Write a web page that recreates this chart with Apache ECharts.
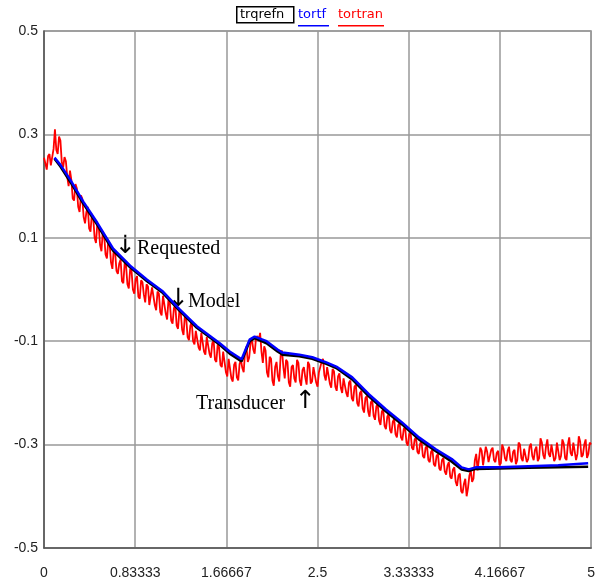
<!DOCTYPE html>
<html>
<head>
<meta charset="utf-8">
<script src="https://cdn.jsdelivr.net/npm/echarts@6/dist/echarts.min.js"></script>
<style>html,body{margin:0;padding:0;background:#fff}#c{width:598px;height:580px}</style>
</head>
<body>
<div id="c"></div>
<script>
// ---- data ----
const seriesNames = ['trqrefn', 'tortf', 'tortran'];
const xTickLabels = ['0', '0.83333', '1.66667', '2.5', '3.33333', '4.16667', '5'];
const yTickLabels = ['-0.5', '-0.3', '-0.1', '0.1', '0.3', '0.5'];

// model (tortf) read points [t, value]
const tortfT = [0.096,0.150,0.241,0.359,0.487,0.632,0.787,0.942,1.087,1.242,1.397,1.606,1.697,1.806,1.879,1.925,2.034,2.134,2.180,2.334,2.452,2.580,2.671,2.817,2.971,3.126,3.272,3.426,3.581,3.727,3.817,3.881,3.945,4.154,4.427,4.700,4.973];
const tortfV = [0.255,0.241,0.212,0.170,0.129,0.079,0.046,0.019,-0.004,-0.039,-0.071,-0.104,-0.120,-0.135,-0.097,-0.091,-0.100,-0.116,-0.122,-0.126,-0.131,-0.141,-0.149,-0.170,-0.203,-0.232,-0.257,-0.286,-0.309,-0.328,-0.344,-0.348,-0.344,-0.344,-0.342,-0.340,-0.336];
// requested (trqrefn)
const trqrefnV = [0.253,0.238,0.208,0.166,0.125,0.075,0.043,0.016,-0.007,-0.042,-0.074,-0.107,-0.124,-0.139,-0.100,-0.094,-0.104,-0.120,-0.126,-0.129,-0.134,-0.144,-0.152,-0.174,-0.207,-0.236,-0.261,-0.290,-0.313,-0.333,-0.348,-0.351,-0.347,-0.346,-0.345,-0.344,-0.343];

// transducer (tortran), sampled every tortranStep from 0
const tortranStep = 0.0125;
const tortranV = [
0.255,0.244,0.232,0.258,0.262,0.240,0.238,0.272,0.310,0.270,0.262,0.296,0.288,0.246,0.236,0.256,0.248,0.218,0.200,0.230,
0.212,0.176,0.172,0.204,0.196,0.160,0.150,0.182,0.176,0.140,0.128,0.150,0.160,0.118,0.112,0.146,0.138,0.100,0.090,0.128,
0.122,0.086,0.074,0.112,0.104,0.068,0.060,0.094,0.088,0.052,0.040,0.078,0.072,0.036,0.030,0.050,0.058,0.016,0.012,0.052,
0.046,0.010,0.002,0.040,0.036,0.000,-0.008,0.020,0.026,-0.014,-0.018,0.018,0.014,-0.010,-0.025,0.010,0.006,-0.030,-0.032,0.004,
0.002,-0.030,-0.040,-0.004,-0.008,-0.044,-0.050,-0.012,-0.014,-0.046,-0.058,-0.020,-0.026,-0.060,-0.066,-0.036,-0.030,-0.070,-0.076,-0.040,
-0.046,-0.078,-0.088,-0.050,-0.056,-0.092,-0.098,-0.070,-0.062,-0.100,-0.106,-0.080,-0.078,-0.112,-0.118,-0.084,-0.086,-0.120,-0.126,-0.092,
-0.094,-0.124,-0.132,-0.104,-0.098,-0.136,-0.140,-0.106,-0.112,-0.146,-0.150,-0.120,-0.118,-0.160,-0.168,-0.134,-0.132,-0.172,-0.178,-0.146,
-0.140,-0.170,-0.176,-0.144,-0.136,-0.152,-0.160,-0.120,-0.110,-0.140,-0.132,-0.104,-0.096,-0.116,-0.124,-0.094,-0.090,-0.100,-0.084,-0.120,
-0.142,-0.110,-0.118,-0.160,-0.170,-0.130,-0.134,-0.176,-0.186,-0.150,-0.140,-0.168,-0.178,-0.128,-0.118,-0.150,-0.172,-0.136,-0.140,-0.180,
-0.188,-0.150,-0.146,-0.172,-0.180,-0.136,-0.142,-0.176,-0.186,-0.156,-0.150,-0.170,-0.184,-0.140,-0.146,-0.182,-0.178,-0.150,-0.150,-0.180,
-0.188,-0.160,-0.150,-0.140,-0.134,-0.166,-0.176,-0.150,-0.150,-0.182,-0.190,-0.154,-0.158,-0.188,-0.196,-0.168,-0.162,-0.190,-0.200,-0.172,
-0.170,-0.200,-0.208,-0.180,-0.176,-0.210,-0.216,-0.188,-0.184,-0.220,-0.226,-0.200,-0.196,-0.230,-0.238,-0.210,-0.206,-0.236,-0.246,-0.218,
-0.214,-0.244,-0.252,-0.226,-0.222,-0.254,-0.262,-0.236,-0.232,-0.264,-0.270,-0.246,-0.240,-0.272,-0.278,-0.256,-0.250,-0.280,-0.286,-0.262,
-0.258,-0.286,-0.292,-0.270,-0.266,-0.296,-0.302,-0.280,-0.276,-0.306,-0.310,-0.290,-0.286,-0.314,-0.318,-0.298,-0.294,-0.322,-0.326,-0.306,
-0.302,-0.330,-0.334,-0.314,-0.310,-0.338,-0.342,-0.322,-0.318,-0.346,-0.350,-0.330,-0.326,-0.352,-0.358,-0.340,-0.334,-0.362,-0.366,-0.348,
-0.344,-0.372,-0.380,-0.360,-0.356,-0.390,-0.394,-0.376,-0.366,-0.400,-0.384,-0.360,-0.350,-0.372,-0.366,-0.330,-0.318,-0.350,-0.348,-0.306,
-0.312,-0.340,-0.338,-0.304,-0.314,-0.334,-0.336,-0.310,-0.306,-0.330,-0.334,-0.316,-0.312,-0.340,-0.336,-0.300,-0.308,-0.326,-0.332,-0.312,
-0.304,-0.330,-0.334,-0.314,-0.310,-0.338,-0.330,-0.296,-0.300,-0.326,-0.332,-0.308,-0.306,-0.334,-0.328,-0.304,-0.298,-0.322,-0.330,-0.310,
-0.304,-0.332,-0.326,-0.288,-0.296,-0.320,-0.328,-0.304,-0.290,-0.318,-0.324,-0.300,-0.300,-0.332,-0.326,-0.296,-0.294,-0.330,-0.322,-0.290,
-0.298,-0.326,-0.330,-0.300,-0.286,-0.316,-0.322,-0.296,-0.296,-0.330,-0.318,-0.284,-0.294,-0.324,-0.320,-0.300,-0.290,-0.326,-0.318,-0.296,
-0.300];

// ---- build ----
const tortfData = tortfT.map((t, i) => [t, tortfV[i]]);
const trqrefnData = tortfT.map((t, i) => [t, trqrefnV[i]]);
const tortranData = tortranV.map((v, i) => [i * tortranStep, v]);

const chart = echarts.init(document.getElementById('c'), null, {renderer: 'canvas'});
const xInt = 5 / 6;
const labelFont = '"Liberation Sans", Arial, sans-serif';
const legendFont = '"DejaVu Sans", Verdana, sans-serif';
const serif = '"Liberation Serif", "Times New Roman", serif';
const arrowFont = '"DejaVu Sans", sans-serif';

chart.setOption({
  animation: false,
  backgroundColor: '#fff',
  grid: {left: 44, right: 5, top: 31, bottom: 31, show: true, borderColor: '#999', borderWidth: 1.5, backgroundColor: 'transparent'},
  xAxis: {
    type: 'value', min: 0, max: 5, interval: xInt,
    axisLine: {show: true, onZero: false, lineStyle: {color: '#555', width: 1.5}},
    axisTick: {show: false},
    splitLine: {show: true, lineStyle: {color: '#999', width: 1.5}},
    axisLabel: {
      margin: 18, color: '#222', fontSize: 14, fontFamily: labelFont,
      formatter: v => xTickLabels[Math.round(v / xInt)]
    }
  },
  yAxis: {
    type: 'value', min: -0.5, max: 0.5, interval: 0.2,
    axisLine: {show: true, onZero: false, lineStyle: {color: '#555', width: 1.5}},
    axisTick: {show: false},
    splitLine: {show: true, lineStyle: {color: '#999', width: 1.5}},
    axisLabel: {
      margin: 6, color: '#222', fontSize: 14, fontFamily: labelFont,
      formatter: v => yTickLabels[Math.round((v + 0.5) / 0.2)]
    }
  },
  series: [
    {name: seriesNames[2], type: 'line', data: tortranData, showSymbol: false, z: 2,
     lineStyle: {color: '#ff0000', width: 1.8}},
    {name: seriesNames[0], type: 'line', data: trqrefnData, showSymbol: false, z: 3,
     lineStyle: {color: '#000000', width: 2.5}},
    {name: seriesNames[1], type: 'line', data: tortfData, showSymbol: false, z: 4,
     lineStyle: {color: '#0000ff', width: 2.5}}
  ],
  graphic: [
    {type: 'rect', left: 236, top: 6, shape: {width: 57, height: 16}, style: {fill: '#fff', stroke: '#000', lineWidth: 1.5}},
    {type: 'text', left: 240, top: 8, style: {text: seriesNames[0], fill: '#000', font: '13px ' + legendFont}},
    {type: 'text', left: 298, top: 8, style: {text: seriesNames[1], fill: '#0000ff', font: '13px ' + legendFont}},
    {type: 'rect', left: 298, top: 25, shape: {width: 31, height: 1.5}, style: {fill: '#0000ff'}},
    {type: 'text', left: 338, top: 8, style: {text: seriesNames[2], fill: '#ff0000', font: '13px ' + legendFont}},
    {type: 'rect', left: 338, top: 25, shape: {width: 46, height: 1.5}, style: {fill: '#ff0000'}},
    {type: 'text', left: 115, top: 234, style: {text: '\u2193', fill: '#000', font: '25px ' + arrowFont}},
    {type: 'text', left: 137, top: 239, style: {text: 'Requested', fill: '#000', font: '20px ' + serif}},
    {type: 'text', left: 168, top: 287, style: {text: '\u2193', fill: '#000', font: '25px ' + arrowFont}},
    {type: 'text', left: 188, top: 292, style: {text: 'Model', fill: '#000', font: '20px ' + serif}},
    {type: 'text', left: 196, top: 394, style: {text: 'Transducer', fill: '#000', font: '20px ' + serif}},
    {type: 'text', left: 295, top: 389, style: {text: '\u2191', fill: '#000', font: '25px ' + arrowFont}}
  ]
});
</script>
</body>
</html>
